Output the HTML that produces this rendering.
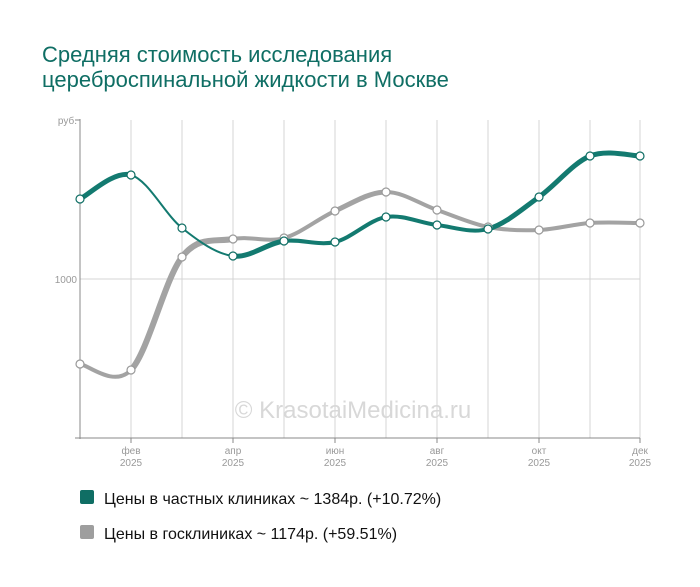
<!DOCTYPE html>
<html><head><meta charset="utf-8"><style>
body{margin:0;background:#fff;width:700px;height:582px;overflow:hidden;font-family:"Liberation Sans",sans-serif}
</style></head><body>
<svg width="700" height="582" xmlns="http://www.w3.org/2000/svg" font-family="Liberation Sans, sans-serif">
<text x="42" y="62" font-size="22" fill="#0f6e64">Средняя стоимость исследования</text>
<text x="42" y="87" font-size="22" fill="#0f6e64">цереброспинальной жидкости в Москве</text>
<g stroke="#d4d4d4" stroke-width="1">
<line x1="131" y1="120" x2="131" y2="438"/><line x1="182" y1="120" x2="182" y2="438"/>
<line x1="233" y1="120" x2="233" y2="438"/><line x1="284" y1="120" x2="284" y2="438"/>
<line x1="335" y1="120" x2="335" y2="438"/><line x1="386" y1="120" x2="386" y2="438"/>
<line x1="437" y1="120" x2="437" y2="438"/><line x1="488" y1="120" x2="488" y2="438"/>
<line x1="539" y1="120" x2="539" y2="438"/><line x1="590" y1="120" x2="590" y2="438"/>
<line x1="640" y1="120" x2="640" y2="438"/>
<line x1="80" y1="279" x2="640" y2="279"/>
</g>
<g stroke="#888" stroke-width="1">
<line x1="80" y1="119" x2="80" y2="439"/><line x1="75" y1="120" x2="80" y2="120"/>
<line x1="75" y1="438" x2="640" y2="438"/>
<line x1="131" y1="438" x2="131" y2="443"/><line x1="233" y1="438" x2="233" y2="443"/>
<line x1="335" y1="438" x2="335" y2="443"/><line x1="437" y1="438" x2="437" y2="443"/>
<line x1="539" y1="438" x2="539" y2="443"/><line x1="640" y1="438" x2="640" y2="443"/>
</g>
<g font-size="10" fill="#999" text-anchor="end">
<text x="77" y="124">руб.</text><text x="77" y="283">1000</text>
</g>
<g font-size="10" fill="#999" text-anchor="middle">
<text x="131" y="454">фев</text><text x="131" y="466">2025</text>
<text x="233" y="454">апр</text><text x="233" y="466">2025</text>
<text x="335" y="454">июн</text><text x="335" y="466">2025</text>
<text x="437" y="454">авг</text><text x="437" y="466">2025</text>
<text x="539" y="454">окт</text><text x="539" y="466">2025</text>
<text x="640" y="454">дек</text><text x="640" y="466">2025</text>
</g>
<text x="353" y="418" font-size="24" fill="#d8d8d8" text-anchor="middle">© KrasotaiMedicina.ru</text>
<g id="series"></g>
<rect x="80" y="490" width="14" height="14" rx="2" fill="#0f6e64"/>
<text x="104" y="504" font-size="16" fill="#111">Цены в частных клиниках ~ 1384р. (+10.72%)</text>
<rect x="80" y="525" width="14" height="14" rx="2" fill="#9e9e9e"/>
<text x="104" y="539" font-size="16" fill="#111">Цены в госклиниках ~ 1174р. (+59.51%)</text>
</svg>
<script>
var X=[80,131,182,233,284,335,386,437,488,539,590,640];
var T=[199,175,228,256,241,242,217,225,229,197,156,156];
var G=[364,370,257,239,238,211,192,210,227,230,223,223];
var TW=[5,2,2,5,4,4,4,4,5,5,5];
var GW=[4,6,6,4,4,5,4,4,4,4,4];
var ns="http://www.w3.org/2000/svg",g=document.getElementById("series");
function seg(Y,i){var p=function(k){k=Math.max(0,Math.min(11,k));return [X[k],Y[k]];};
var p0=p(i-1),p1=p(i),p2=p(i+1),p3=p(i+2);
return "M"+p1+"C"+(p1[0]+(p2[0]-p0[0])/6)+","+(p1[1]+(p2[1]-p0[1])/6)+" "+(p2[0]-(p3[0]-p1[0])/6)+","+(p2[1]-(p3[1]-p1[1])/6)+" "+p2;}
function draw(Y,W,c){for(var i=0;i<11;i++){var e=document.createElementNS(ns,"path");e.setAttribute("d",seg(Y,i));e.setAttribute("fill","none");e.setAttribute("stroke",c);e.setAttribute("stroke-width",W[i]);e.setAttribute("stroke-linecap","round");g.appendChild(e);}}
function dots(Y,c){for(var i=0;i<12;i++){var e=document.createElementNS(ns,"circle");e.setAttribute("cx",X[i]);e.setAttribute("cy",Y[i]);e.setAttribute("r",4);e.setAttribute("fill","#fff");e.setAttribute("stroke",c);e.setAttribute("stroke-width",1.2);g.appendChild(e);}}
draw(G,GW,"#a3a3a3");draw(T,TW,"#137a70");dots(G,"#999");dots(T,"#0f6e64");
</script>
</body></html>
